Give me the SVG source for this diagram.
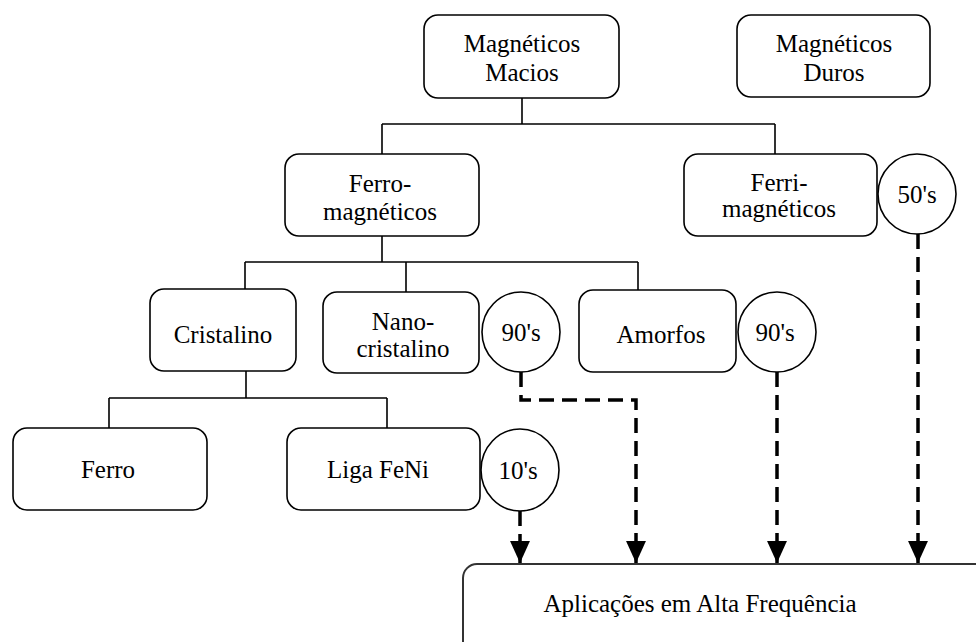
<svg xmlns="http://www.w3.org/2000/svg" width="976" height="642" viewBox="0 0 976 642">
<style>
.box{fill:#fff;stroke:#000;stroke-width:1.6}
.cir{fill:#fff;stroke:#000;stroke-width:1.6}
.t{font-family:"Liberation Serif","Times New Roman",serif;font-size:25px;fill:#000;text-anchor:middle}
.tree{fill:none;stroke:#000;stroke-width:1.6}
.dash{fill:none;stroke:#000;stroke-width:3.5;stroke-dasharray:15 8}
</style>
<defs>
<marker id="arr" markerUnits="userSpaceOnUse" markerWidth="22" markerHeight="20" refX="21" refY="9.5" orient="auto" viewBox="0 0 21 19">
<path d="M0,0 L21,9.5 L0,19 z" fill="#000"/>
</marker>
</defs>
<rect width="976" height="642" fill="#fff"/>
<g id="connectors">
<path class="tree" d="M522,98 V124 M382,124 H775 M382,124 V154 M775,124 V154 M382,236 V262 M245,262 H638 M245,262 V289 M406,262 V292 M638,262 V290 M246,371 V398 M109,398 H387 M109,398 V428 M387,398 V428"/>
<path class="dash" d="M520,511 V563" marker-end="url(#arr)"/>
<path class="dash" d="M521,372 V400 H636 V563" marker-end="url(#arr)"/>
<path class="dash" d="M777,372 V563" marker-end="url(#arr)"/>
<path class="dash" d="M918,234 V563" marker-end="url(#arr)"/>
</g>
<g id="macios"><rect class="box" x="424" y="15" width="195" height="83" rx="14"/><text class="t" x="522" y="52">Magnéticos</text><text class="t" x="522" y="81">Macios</text></g>
<g id="duros"><rect class="box" x="737" y="15" width="193" height="82" rx="14"/><text class="t" x="834" y="52">Magnéticos</text><text class="t" x="834" y="81">Duros</text></g>
<g id="ferromag"><rect class="box" x="285" y="154" width="194" height="82" rx="14"/><text class="t" x="380" y="192">Ferro-</text><text class="t" x="380" y="220">magnéticos</text></g>
<g id="ferrimag"><rect class="box" x="684" y="154" width="193" height="82" rx="14"/><text class="t" x="779" y="191">Ferri-</text><text class="t" x="779" y="217">magnéticos</text></g>
<g id="c50"><ellipse class="cir" cx="917" cy="194" rx="39" ry="40"/><text class="t" x="917" y="203">50's</text></g>
<g id="cristalino"><rect class="box" x="150" y="289" width="146" height="82" rx="14"/><text class="t" x="223" y="343">Cristalino</text></g>
<g id="nano"><rect class="box" x="323" y="292" width="156" height="81" rx="14"/><text class="t" x="403" y="330">Nano-</text><text class="t" x="403" y="357">cristalino</text></g>
<g id="c90a"><ellipse class="cir" cx="521" cy="332" rx="39" ry="40"/><text class="t" x="521" y="341">90's</text></g>
<g id="amorfos"><rect class="box" x="579" y="290" width="157" height="82" rx="14"/><text class="t" x="661" y="343">Amorfos</text></g>
<g id="c90b"><ellipse class="cir" cx="777" cy="332" rx="39" ry="40"/><text class="t" x="775" y="341">90's</text></g>
<g id="ferro"><rect class="box" x="13" y="428" width="194" height="82" rx="14"/><text class="t" x="108" y="478">Ferro</text></g>
<g id="liga"><rect class="box" x="287" y="428" width="193" height="82" rx="14"/><text class="t" x="378" y="478">Liga FeNi</text></g>
<g id="c10"><ellipse class="cir" cx="520" cy="470" rx="39" ry="41"/><text class="t" x="518" y="479">10's</text></g>
<g id="aplicacoes"><rect x="463" y="564" width="600" height="200" rx="14" fill="#fff" stroke="#333" stroke-width="2"/><text class="t" x="700" y="612">Aplicações em Alta Frequência</text></g>
</svg>
